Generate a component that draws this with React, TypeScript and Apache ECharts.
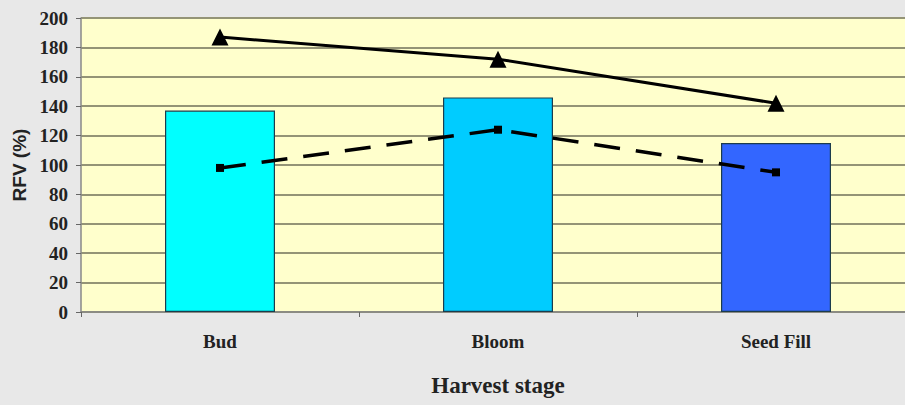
import React, { useEffect, useRef } from "react";
import * as echarts from "echarts";

const categories = ["Bud", "Bloom", "Seed Fill"];
const barValues = [137, 146, 115];
const barColors = ["#00FFFF", "#00CCFF", "#3366FF"];
const solidLineValues = [187, 172, 142];
const dashedLineValues = [98, 124, 95];
const yTicks = { min: 0, max: 200, interval: 20 };

export default function App() {
  const ref = useRef<HTMLDivElement>(null);
  useEffect(() => {
    if (!ref.current) return;
    const chart = echarts.init(ref.current, null, { renderer: "svg" });
    const serif = "'Liberation Serif', 'Times New Roman', serif";
    chart.setOption({
      animation: false,
      backgroundColor: "#E8E8E8",
      grid: {
        left: 81,
        top: 18,
        width: 834,
        height: 294,
        show: true,
        backgroundColor: "#FFFFCC",
        borderWidth: 0,
      },
      xAxis: {
        type: "category",
        data: categories,
        name: "Harvest stage",
        nameLocation: "middle",
        nameGap: 62,
        nameTextStyle: { fontFamily: serif, fontWeight: "bold", fontSize: 23, color: "#222" },
        axisLine: { show: true, lineStyle: { color: "#888", width: 1.5 } },
        axisTick: { show: true, length: 5, lineStyle: { color: "#666" } },
        axisLabel: { fontFamily: serif, fontWeight: "bold", fontSize: 19, color: "#222", margin: 20 },
      },
      yAxis: {
        type: "value",
        min: yTicks.min,
        max: yTicks.max,
        interval: yTicks.interval,
        name: "RFV (%)",
        nameLocation: "middle",
        nameGap: 50,
        nameTextStyle: { fontFamily: "'Liberation Sans', Arial, sans-serif", fontWeight: "bold", fontSize: 19, color: "#222" },
        axisLine: { show: true, lineStyle: { color: "#888", width: 1.5 } },
        axisTick: { show: true, length: 5, lineStyle: { color: "#666" } },
        axisLabel: { fontFamily: serif, fontWeight: "bold", fontSize: 19, color: "#222", margin: 13 },
        splitLine: { show: true, lineStyle: { color: "#949476", width: 1.8 } },
      },
      series: [
        {
          type: "bar",
          barWidth: 110,
          data: barValues.map((v, i) => ({
            value: v,
            itemStyle: { color: barColors[i], borderColor: "#1c3c4c", borderWidth: 1.2 },
          })),
        },
        {
          type: "line",
          data: solidLineValues,
          symbol: "triangle",
          symbolSize: [17, 17],
          itemStyle: { color: "#000" },
          lineStyle: { color: "#000", width: 3 },
          z: 5,
        },
        {
          type: "line",
          data: dashedLineValues,
          symbol: "rect",
          symbolSize: 8,
          itemStyle: { color: "#000" },
          lineStyle: { color: "#000", width: 3.5, type: [26, 16] },
          z: 5,
        },
      ],
    });
    return () => chart.dispose();
  }, []);
  return (
    <div
      style={{ position: "fixed", left: 0, top: 0, width: "100vw", height: 405, overflow: "hidden" }}
    >
      <div ref={ref} style={{ width: 920, height: 405 }} />
    </div>
  );
}
